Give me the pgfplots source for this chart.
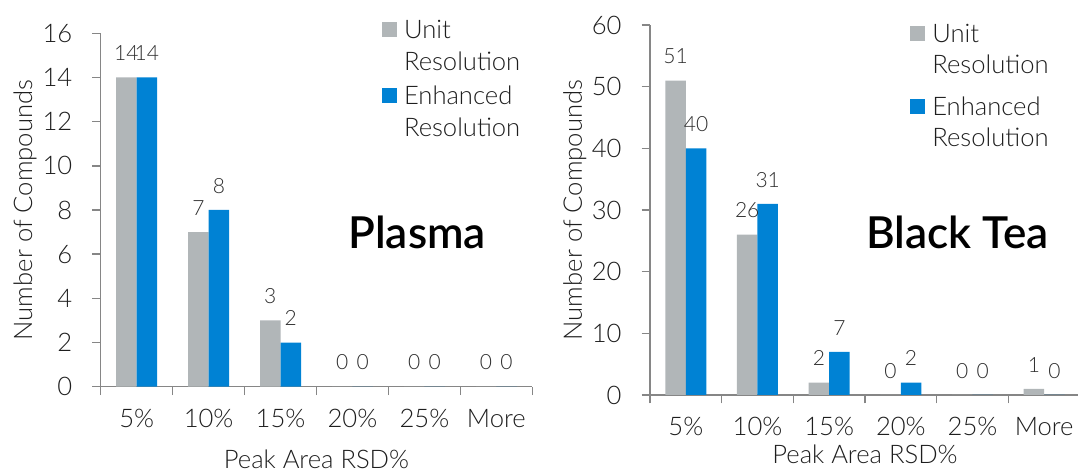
\documentclass[border=0pt]{standalone}
\usepackage{fontspec}
\IfFontExistsTF{Lato Light}{\setmainfont{Lato Light}}{\setmainfont{Lato}}
\IfFontExistsTF{Lato Semibold}{\newfontfamily\titlefont{Lato Semibold}}{\newfontfamily\titlefont{Lato}[UprightFont=*, UprightFeatures={FakeBold=0}]}
\usepackage{pgfplots}
\pgfplotsset{compat=1.18}

\definecolor{unitgray}{RGB}{177,182,184}
\definecolor{enhblue}{RGB}{0,130,212}
\definecolor{axisgray}{RGB}{134,134,134}
\definecolor{labeltext}{RGB}{30,30,30}
\definecolor{valtext}{RGB}{45,45,45}

% legend key square set on the text baseline, and the indent of a wrapped line
\newcommand{\legsq}[1]{\textcolor{#1}{\rule[0.8pt]{7.5pt}{7.5pt}}\hspace{3.65pt}}
\newcommand{\legsp}{\hspace{11.15pt}}

\pgfplotsset{
  rsdbars/.style={
    scale only axis, ybar=0pt, bar width=10.25pt, enlargelimits=false,
    xmin=-0.5, xmax=5.5, ymin=0,
    axis x line=bottom, axis y line=left,
    axis line style={-, draw=axisgray, line width=0.75pt},
    tick style={draw=axisgray, line width=0.75pt},
    tick align=outside, major tick length=4.2pt,
    xtick={-0.5,0.5,...,5.5}, x tick label as interval,
    xticklabels={5\%,10\%,15\%,20\%,25\%,More},
    /pgf/number format/assume math mode=true,
    tick label style={font=\fontsize{12.8}{15}\selectfont, text=labeltext},
    xticklabel style={yshift=-3.5pt},
    yticklabel style={xshift=-6.5pt},
    label style={font=\fontsize{12.8}{15}\selectfont, text=labeltext},
    xlabel={Peak Area RSD\%}, ylabel={Number of Compounds},
    nodes near coords,
    nodes near coords style={anchor=base, yshift=8.35pt, inner sep=0pt,
      font=\fontsize{10.5}{12}\selectfont, text=valtext},
    legend cell align=left,
    legend style={draw=none, fill=none, inner sep=0pt, outer sep=0pt,
      anchor=north west, row sep=0pt, column sep=0pt,
      font=\fontsize{12.8}{16}\selectfont, text=labeltext,
      nodes={inner sep=0pt, text height=11.5pt, text depth=4.5pt}},
  },
  nokey/.style={legend image code/.code={}},
}

\begin{document}
\begin{tikzpicture}
\useasboundingbox (0pt,0pt) rectangle (539pt,-237.5pt);

% Plasma
\begin{axis}[rsdbars, at={(50.35pt,-193.35pt)}, anchor=south west,
  width=215.8pt, height=176.7pt, ymax=16, ytick={0,2,...,16},
  legend style={at={(rel axis cs:0.6511,1.0509)}},
  xlabel style={at={(axis description cs:0.5,-0.2046)}, anchor=center},
  ylabel style={at={(axis description cs:-0.175,0.5)}, anchor=center}]
\addplot[fill=unitgray, draw=none, nokey] coordinates {(0,14) (1,7) (2,3) (3,0) (4,0) (5,0)};
\addlegendentry{\legsq{unitgray}Unit}
\addlegendimage{empty legend}
\addlegendentry[text depth=5.5pt]{\legsp Resolution}
\addplot[fill=enhblue, draw=none, nokey] coordinates {(0,14) (1,8) (2,2) (3,0) (4,0) (5,0)};
\addlegendentry{\legsq{enhblue}Enhanced}
\addlegendimage{empty legend}
\addlegendentry{\legsp Resolution}
\end{axis}
\node[anchor=base west, inner sep=0pt, font=\fontsize{22}{26}\titlefont] at (174pt,-124.15pt) {Plasma};

% Black Tea
\begin{axis}[rsdbars, at={(325pt,-197.5pt)}, anchor=south west,
  width=215pt, height=185pt, ymax=60, ytick={0,10,...,60},
  legend style={at={(rel axis cs:0.6047,1.0138)},
    nodes={inner sep=0pt, text height=11.2pt, text depth=4.5pt}},
  xlabel style={at={(axis description cs:0.5,-0.1595)}, anchor=center},
  ylabel style={at={(axis description cs:-0.175,0.5)}, anchor=center}]
\addplot[fill=unitgray, draw=none, nokey] coordinates {(0,51) (1,26) (2,2) (3,0) (4,0) (5,1)};
\addlegendentry{\legsq{unitgray}Unit}
\addlegendimage{empty legend}
\addlegendentry[text depth=9.7pt]{\legsp Resolution}
\addplot[fill=enhblue, draw=none, nokey] coordinates {(0,40) (1,31) (2,7) (3,2) (4,0) (5,0)};
\addlegendentry{\legsq{enhblue}Enhanced}
\addlegendimage{empty legend}
\addlegendentry{\legsp Resolution}
\end{axis}
\node[anchor=base west, inner sep=0pt, font=\fontsize{22}{26}\titlefont] at (433pt,-124.15pt) {Black Tea};
\end{tikzpicture}
\end{document}
